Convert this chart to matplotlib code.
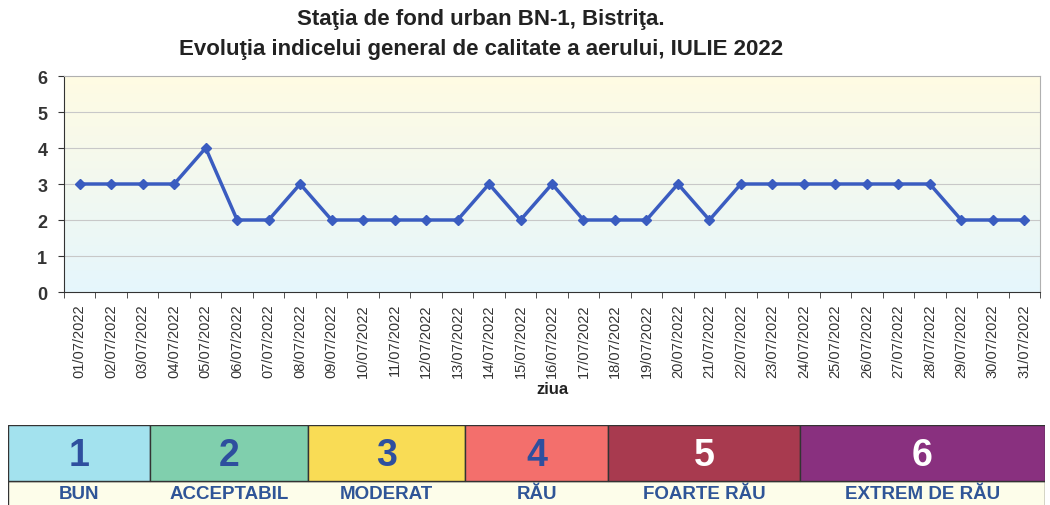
import numpy as np
import matplotlib.pyplot as plt
from matplotlib.patches import Rectangle

plt.rcParams['font.family'] = ['Liberation Sans', 'DejaVu Sans']

# data
days = ["%02d/07/2022" % d for d in range(1, 32)]
index_values = [3, 3, 3, 3, 4, 2, 2, 3, 2, 2, 2, 2, 2, 3, 2, 3, 2, 2, 2, 3, 2,
                3, 3, 3, 3, 3, 3, 3, 2, 2, 2]
levels = ["1", "2", "3", "4", "5", "6"]
level_names = ["BUN", "ACCEPTABIL", "MODERAT", "RĂU", "FOARTE RĂU", "EXTREM DE RĂU"]
level_colors = ["#a3e2ee", "#80cfad", "#f9dc55", "#f36f6c", "#a83a4f", "#89307f"]
number_colors = ["#2e4f9e", "#2e4f9e", "#2e4f9e", "#2e4f9e", "white", "white"]
# widths of the legend boxes (pixels)
level_widths = [142, 158, 157, 143, 192, 245]

fig = plt.figure(figsize=(10.5, 5.06), dpi=100)
W, H = 1050, 506

ax = fig.add_axes([64 / W, 1 - 293 / H, (1040 - 64) / W, (293 - 77) / H])
x = np.arange(len(days))

# background gradient, pale yellow on top, pale blue at bottom
grad = np.linspace(0, 1, 256).reshape(-1, 1)
top = np.array([1.0, 0.985, 0.89])
bot = np.array([0.90, 0.965, 0.99])
img = top[None, None, :] * (1 - grad[:, :, None]) + bot[None, None, :] * grad[:, :, None]
ax.imshow(img, extent=[-0.5, len(days) - 0.5, 0, 6], origin='upper',
          aspect='auto', zorder=0)

for yv in range(1, 6):
    ax.axhline(yv, color='#c8c8c8', lw=0.8, zorder=1)

ax.plot(x, index_values, color='#3a5cc0', lw=2.5, marker='D', markersize=5.5,
        zorder=3)

ax.set_xlim(-0.5, len(days) - 0.5)
ax.set_ylim(0, 6)
ax.set_xticks(x)
ax.set_xticklabels(days, rotation=90, fontsize=10.5, color='#333333')
ax.set_xticks(np.arange(-0.5, len(days), 1), minor=True)
ax.tick_params(axis='x', which='major', length=0, pad=8)
ax.tick_params(axis='x', which='minor', length=4, color='#333333')
ax.set_yticks(range(0, 7))
ax.set_yticklabels([str(v) for v in range(0, 7)], fontsize=13, fontweight='bold',
                   color='#333333')
ax.tick_params(axis='y', length=4, color='#333333', pad=8)
for s in ['top', 'right']:
    ax.spines[s].set_color('#b0b0b0')
for s in ['left', 'bottom']:
    ax.spines[s].set_color('#333333')
ax.set_xlabel("ziua", fontsize=12, fontweight='bold', labelpad=3, color='#222222')

fig.text(0.458, 0.962, "Staţia de fond urban BN-1, Bistriţa.", ha='center', va='center',
         fontsize=16, fontweight='bold', color='#222222')
fig.text(0.458, 0.903, "Evoluţia indicelui general de calitate a aerului, IULIE 2022",
         ha='center', va='center', fontsize=16, fontweight='bold', color='#222222')

# legend band
lax = fig.add_axes([8 / W, -9 / H, 1037 / W, 89 / H])
lax.set_xlim(0, sum(level_widths))
lax.set_ylim(0, 89)
lax.axis('off')
left = 0
for lvl, name, col, ncol, w in zip(levels, level_names, level_colors,
                                   number_colors, level_widths):
    lax.add_patch(Rectangle((left, 33), w, 56, facecolor=col, edgecolor='#333333',
                            lw=1.0))
    lax.text(left + w / 2, 59, lvl, ha='center', va='center', fontsize=27,
             fontweight='bold', color=ncol)
    lax.text(left + w / 2, 15.5, name, ha='center', va='baseline', fontsize=13.5,
             fontweight='bold', color='#2f5597')
    left += w
lax.add_patch(Rectangle((0, 0), sum(level_widths), 33, facecolor='#fdfdea',
                        edgecolor='#333333', lw=1.0, zorder=0))

fig.savefig("out.png", dpi=100)
